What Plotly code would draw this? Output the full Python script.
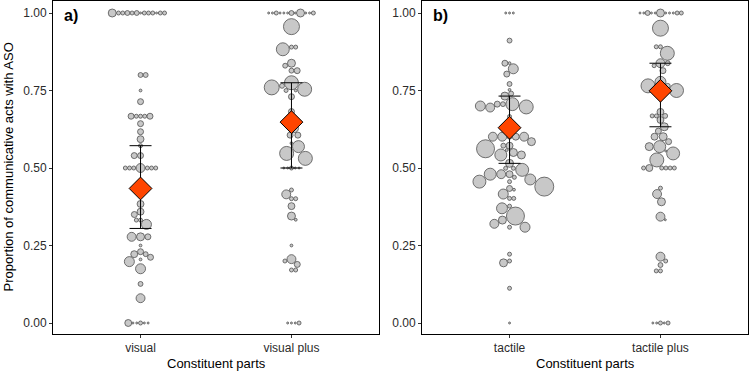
import math
import plotly.graph_objects as go

# ---------------- data ----------------
panel_a_categories = ["visual", "visual plus"]
panel_b_categories = ["tactile", "tactile plus"]
y_tick_values = [0.0, 0.25, 0.5, 0.75, 1.0]
y_tick_labels = ["0.00", "0.25", "0.50", "0.75", "1.00"]

# proportion per individual and number of communicative acts (bubble size)
visual_prop = [1, 1, 1, 1, 1, 1, 1, 1, 1, 1, 1, 1, 1, 0.80, 0.80, 0.75, 0.714,
               0.667, 0.667, 0.667, 0.667, 0.667, 0.643, 0.617, 0.593, 0.572,
               0.54, 0.54, 0.50, 0.50, 0.50, 0.50, 0.50, 0.50, 0.50, 0.434, 0.43,
               0.384, 0.359, 0.35, 0.332, 0.332, 0.318, 0.278, 0.278, 0.278,
               0.25, 0.23, 0.222, 0.222, 0.212, 0.205, 0.198, 0.175, 0.126, 0.08,
               0, 0, 0, 0, 0, 0]
visual_n = [1, 6, 4, 4, 4, 4, 6, 1, 4, 4, 4, 4, 16, 6, 6, 2, 9,
            4, 4, 4, 9, 9, 9, 9, 12, 4,
            9, 9, 20, 4, 4, 4, 4, 4, 4, 16, 4,
            12, 12, 9, 4, 4, 25, 16, 9, 20,
            2, 9, 6, 12, 9, 2, 25, 25, 6, 20,
            4, 1, 1, 1, 1, 12]

visual_plus_prop = [1, 1, 1, 1, 1, 1, 1, 1, 1, 1, 1, 1, 0.956, 0.89, 0.89, 0.883,
                    0.838, 0.83, 0.814, 0.814, 0.775, 0.765, 0.75, 0.75, 0.754, 0.76,
                    0.73, 0.682, 0.65, 0.65, 0.628, 0.606, 0.606, 0.58, 0.569, 0.547,
                    0.531, 0.50, 0.50, 0.50, 0.50, 0.50, 0.429, 0.415, 0.401, 0.401,
                    0.377, 0.345, 0.333, 0.25, 0.206, 0.2, 0.189, 0.171, 0.171,
                    0, 0, 0, 0]
visual_plus_n = [6, 1, 1, 1, 16, 1, 4, 1, 1, 1, 4, 1, 64, 4, 4, 42,
                 16, 6, 6, 9, 49, 6, 2, 4, 49, 56,
                 9, 9, 6, 4, 20, 9, 9, 2, 36, 49,
                 49, 4, 1, 1, 1, 1, 4, 20, 4, 4,
                 12, 16, 2, 2, 20, 4, 9, 4, 4,
                 1, 1, 1, 4]

tactile_prop = [1, 1, 1, 0.911, 0.838, 0.838, 0.82, 0.803, 0.771, 0.752, 0.74, 0.732,
                0.706, 0.706, 0.706, 0.697, 0.695, 0.70, 0.666, 0.649, 0.63, 0.63,
                0.601, 0.601, 0.601, 0.601, 0.601, 0.585, 0.572, 0.572, 0.562, 0.558,
                0.55, 0.542, 0.542, 0.515, 0.499, 0.499, 0.494, 0.48, 0.48, 0.48,
                0.47, 0.463, 0.456, 0.456, 0.44, 0.434, 0.43, 0.416, 0.402, 0.402,
                0.377, 0.37, 0.345, 0.332, 0.32, 0.309, 0.309, 0.222, 0.2, 0.194,
                0.112, 0]
tactile_n = [1, 1, 1, 6, 2, 9, 25, 9, 6, 2, 6, 16,
             42, 6, 9, 49, 20, 25, 4, 6, 16, 16,
             6, 20, 12, 20, 20, 16, 12, 6, 81, 2,
             16, 36, 16, 16, 4, 4, 42, 12, 20, 36,
             4, 30, 42, 4, 90, 9, 2, 25, 4, 4,
             4, 30, 81, 16, 20, 25, 4, 4, 4, 16,
             4, 1]

tactile_plus_prop = [1, 1, 1, 1, 1, 1, 1, 1, 1, 1, 1, 0.951, 0.891, 0.891, 0.87,
                     0.838, 0.838, 0.83, 0.814, 0.778, 0.765, 0.765, 0.75, 0.75, 0.73,
                     0.681, 0.668, 0.668, 0.668, 0.655, 0.633, 0.619, 0.601, 0.601,
                     0.585, 0.569, 0.569, 0.555, 0.547, 0.526, 0.5, 0.5, 0.5, 0.5,
                     0.5, 0.5, 0.435, 0.416, 0.391, 0.343, 0.333, 0.214, 0.2, 0.187,
                     0.168, 0.168, 0, 0, 0, 0, 0]
tactile_plus_n = [16, 1, 1, 1, 1, 6, 1, 4, 1, 1, 4, 64, 4, 4, 49,
                  20, 6, 4, 9, 30, 6, 49, 49, 4, 4,
                  12, 6, 4, 4, 12, 16, 9, 16, 12,
                  9, 36, 16, 1, 42, 49, 4, 4, 12, 4,
                  4, 4, 4, 20, 16, 20, 1, 20, 4, 6,
                  4, 4, 4, 1, 1, 1, 4]

# model estimates: mean and 95% interval
panel_a_mean = [0.434, 0.648]
panel_a_low = [0.305, 0.500]
panel_a_high = [0.572, 0.775]
panel_b_mean = [0.630, 0.749]
panel_b_low = [0.515, 0.633]
panel_b_high = [0.732, 0.838]

# ---------------- layout geometry ----------------
W, H = 749, 372
L, R, T, B = 53, 1, 1, 38
plot_w = W - L - R
plot_h = H - T - B
panel_w = 326
gap = plot_w - 2 * panel_w
x_range = [0.42, 2.58]
y_range = [-0.0355, 1.0387]
ppu_y = plot_h / (y_range[1] - y_range[0])
ppu_x = panel_w / (x_range[1] - x_range[0])

FONT = "Liberation Sans, Arial, sans-serif"
POINT_FILL = "#c8c8c8"
POINT_LINE = "#505050"
MEAN_FILL = "#ff4500"


def radius(n):
    return math.sqrt(n)


def swarm(vals, ns, d0=3.8, k=1.05):
    """Simple size-aware beeswarm; returns x offsets in pixels."""
    placed = []
    offs = []
    for i, (v, n) in enumerate(zip(vals, ns)):
        y = v * ppu_y
        r = radius(n)
        cands = [0.0]
        for (xj, yj, rj) in placed:
            D = max(d0, k * (r + rj))
            dy = abs(y - yj)
            if dy < D:
                dx = math.sqrt(D * D - dy * dy)
                cands += [xj + dx, xj - dx]
        pref = 1 if i % 2 == 0 else -1
        cands.sort(key=lambda c: (round(abs(c), 5), -pref * c))
        chosen = 0.0
        for c in cands:
            ok = True
            for (xj, yj, rj) in placed:
                D = max(d0, k * (r + rj))
                if (c - xj) ** 2 + (y - yj) ** 2 < D * D - 1e-6:
                    ok = False
                    break
            if ok:
                chosen = c
                break
        placed.append((chosen, y, r))
        offs.append(chosen)
    return offs


def point_trace(cat_index, vals, ns, xa, ya):
    assert len(vals) == len(ns)
    offs = swarm(vals, ns)
    xs = [cat_index + o / ppu_x for o in offs]
    return go.Scatter(
        x=xs, y=vals, mode="markers", xaxis=xa, yaxis=ya, showlegend=False,
        hoverinfo="skip",
        marker=dict(size=[2 * radius(n) for n in ns], color=POINT_FILL,
                    line=dict(color=POINT_LINE, width=0.8), opacity=1),
    )


def mean_trace(means, lows, highs, xa, ya):
    return go.Scatter(
        x=[1, 2], y=means, mode="markers", xaxis=xa, yaxis=ya, showlegend=False,
        error_y=dict(type="data", symmetric=False,
                     array=[h - m for h, m in zip(highs, means)],
                     arrayminus=[m - l for m, l in zip(means, lows)],
                     color="#000000", thickness=1, width=11),
        marker=dict(symbol="diamond", size=17.5, color=MEAN_FILL,
                    line=dict(color="#000000", width=1)),
    )


fig = go.Figure()
fig.add_trace(point_trace(1, visual_prop, visual_n, "x", "y"))
fig.add_trace(point_trace(2, visual_plus_prop, visual_plus_n, "x", "y"))
fig.add_trace(mean_trace(panel_a_mean, panel_a_low, panel_a_high, "x", "y"))
fig.add_trace(point_trace(1, tactile_prop, tactile_n, "x2", "y2"))
fig.add_trace(point_trace(2, tactile_plus_prop, tactile_plus_n, "x2", "y2"))
fig.add_trace(mean_trace(panel_b_mean, panel_b_low, panel_b_high, "x2", "y2"))

axis_common = dict(showline=True, mirror=True, linecolor="#000000", linewidth=1,
                   ticks="outside", ticklen=3, tickwidth=1, tickcolor="#333333",
                   showgrid=False, zeroline=False,
                   tickfont=dict(family=FONT, size=12, color="#2b2b2b"))

fig.update_layout(
    width=W, height=H,
    margin=dict(l=L, r=R, t=T, b=B),
    paper_bgcolor="white", plot_bgcolor="white",
    font=dict(family=FONT, color="#000000"),
    xaxis=dict(domain=[0, panel_w / plot_w], range=x_range, tickvals=[1, 2],
               ticktext=panel_a_categories, anchor="y", **axis_common),
    yaxis=dict(domain=[0, 1], range=y_range, tickvals=y_tick_values,
               ticktext=y_tick_labels, anchor="x", **axis_common),
    xaxis2=dict(domain=[(panel_w + gap) / plot_w, 1], range=x_range, tickvals=[1, 2],
                ticktext=panel_b_categories, anchor="y2", **axis_common),
    yaxis2=dict(domain=[0, 1], range=y_range, tickvals=y_tick_values,
                ticktext=y_tick_labels, anchor="x2", **axis_common),
)

title_font = dict(family=FONT, size=13, color="#000000")
label_font = dict(family=FONT, size=16, color="#000000")
ann = []
for cx in [(panel_w / 2) / plot_w, (panel_w + gap + panel_w / 2) / plot_w]:
    ann.append(dict(text="Constituent parts", x=cx, y=(0 - 29) / plot_h,
                    xref="paper", yref="paper", showarrow=False,
                    xanchor="center", yanchor="middle", font=title_font))
ann.append(dict(text="Proportion of communicative acts with ASO",
                x=(8 - L) / plot_w, y=0.5, xref="paper", yref="paper",
                showarrow=False, textangle=-90, xanchor="center",
                yanchor="middle", font=title_font))
ann.append(dict(text="<b>a)</b>", x=9 / plot_w, y=(plot_h - 14) / plot_h,
                xref="paper", yref="paper", showarrow=False,
                xanchor="left", yanchor="middle", font=label_font))
ann.append(dict(text="<b>b)</b>", x=(panel_w + gap + 9) / plot_w,
                y=(plot_h - 14) / plot_h, xref="paper", yref="paper",
                showarrow=False, xanchor="left", yanchor="middle", font=label_font))
fig.update_layout(annotations=ann)

fig.write_html("out.html",
               config={"displayModeBar": False},
               post_script="document.body.style.margin='0px';"
                           "document.body.style.overflow='hidden';")
